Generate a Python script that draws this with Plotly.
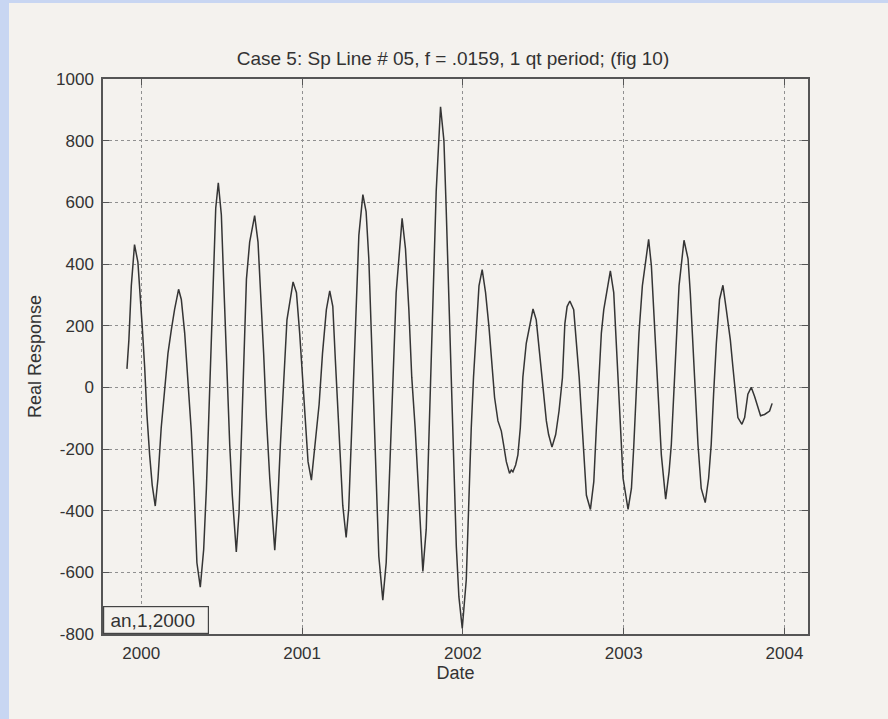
import plotly.graph_objects as go

# Real response of the spline-filtered line, sampled in decimal years
dates = [
    1999.911, 1999.923, 1999.938, 1999.958, 1999.979, 1999.994, 2000.006, 2000.021,
    2000.035, 2000.052, 2000.068, 2000.087, 2000.104, 2000.124, 2000.145, 2000.166,
    2000.187, 2000.207, 2000.232, 2000.249, 2000.270, 2000.290, 2000.311, 2000.328,
    2000.346, 2000.367, 2000.388, 2000.405, 2000.421, 2000.436, 2000.450, 2000.463,
    2000.479, 2000.498, 2000.512, 2000.529, 2000.550, 2000.566, 2000.591, 2000.608,
    2000.622, 2000.639, 2000.654, 2000.674, 2000.705, 2000.726, 2000.743, 2000.761,
    2000.778, 2000.799, 2000.830, 2000.846, 2000.865, 2000.886, 2000.906, 2000.944,
    2000.965, 2000.985, 2001.006, 2001.023, 2001.037, 2001.058, 2001.079, 2001.106,
    2001.127, 2001.151, 2001.172, 2001.191, 2001.207, 2001.222, 2001.237, 2001.253,
    2001.274, 2001.290, 2001.305, 2001.320, 2001.336, 2001.353, 2001.378, 2001.398,
    2001.415, 2001.429, 2001.444, 2001.461, 2001.477, 2001.502, 2001.523, 2001.539,
    2001.554, 2001.568, 2001.585, 2001.622, 2001.643, 2001.664, 2001.682, 2001.703,
    2001.720, 2001.734, 2001.751, 2001.772, 2001.788, 2001.803, 2001.817, 2001.834,
    2001.861, 2001.882, 2001.896, 2001.911, 2001.927, 2001.942, 2001.959, 2001.975,
    2001.996, 2002.021, 2002.037, 2002.052, 2002.066, 2002.083, 2002.100, 2002.120,
    2002.141, 2002.162, 2002.183, 2002.197, 2002.218, 2002.239, 2002.253, 2002.270,
    2002.290, 2002.301, 2002.311, 2002.328, 2002.342, 2002.357, 2002.373, 2002.394,
    2002.436, 2002.456, 2002.477, 2002.498, 2002.519, 2002.533, 2002.554, 2002.577,
    2002.598, 2002.619, 2002.634, 2002.648, 2002.665, 2002.689, 2002.706, 2002.723,
    2002.737, 2002.752, 2002.768, 2002.793, 2002.814, 2002.830, 2002.847, 2002.861,
    2002.876, 2002.892, 2002.917, 2002.938, 2002.950, 2002.965, 2002.979, 2002.996,
    2003.027, 2003.048, 2003.062, 2003.079, 2003.095, 2003.116, 2003.155, 2003.172,
    2003.186, 2003.203, 2003.219, 2003.234, 2003.261, 2003.282, 2003.296, 2003.311,
    2003.327, 2003.344, 2003.375, 2003.400, 2003.414, 2003.431, 2003.447, 2003.462,
    2003.482, 2003.507, 2003.528, 2003.544, 2003.559, 2003.576, 2003.596, 2003.617,
    2003.638, 2003.663, 2003.679, 2003.694, 2003.710, 2003.735, 2003.752, 2003.772,
    2003.793, 2003.814, 2003.834, 2003.851, 2003.876, 2003.907, 2003.923,
]

response = [
    60, 154, 329, 463, 406, 307, 197, 66,
    -87, -219, -317, -385, -295, -131, 0, 110,
    187, 252, 318, 285, 176, 22, -142, -328,
    -569, -648, -526, -328, -76, 197, 439, 581,
    663, 559, 351, 88, -186, -350, -534, -405,
    -186, 88, 351, 471, 557, 471, 307, 110,
    -98, -295, -528, -405, -186, 33, 219, 342,
    307, 176, 0, -131, -241, -301, -186, -55,
    110, 252, 313, 263, 88, -76, -241, -383,
    -487, -394, -186, 33, 285, 493, 625, 570,
    417, 197, -22, -295, -547, -690, -569, -350,
    -131, 88, 307, 548, 449, 252, 33, -131,
    -295, -460, -597, -460, -186, 88, 362, 636,
    910, 800, 581, 307, 33, -241, -515, -679,
    -782, -624, -350, -131, 33, 197, 329, 382,
    307, 197, 55, -33, -109, -142, -186, -241,
    -279, -268, -274, -252, -219, -131, 33, 143,
    254, 219, 110, 0, -109, -153, -194, -153,
    -76, 31, 206, 262, 280, 252, 143, 33,
    -87, -219, -350, -396, -306, -131, 33, 176,
    252, 307, 378, 307, 176, 33, -131, -295,
    -396, -328, -197, -22, 176, 329, 480, 395,
    252, 88, -76, -219, -363, -274, -186, -22,
    164, 329, 477, 417, 307, 143, -22, -186,
    -328, -374, -295, -186, -22, 143, 285, 331,
    252, 154, 66, -22, -98, -120, -98, -22,
    0, -30, -63, -92, -88, -77, -52,
]

x_ticks = [2000, 2001, 2002, 2003, 2004]
y_ticks = [-800, -600, -400, -200, 0, 200, 400, 600, 800, 1000]

PAGE = "#f4f2ee"
EDGE = "#c8d6f2"
INK = "#333333"
FONT = "Liberation Sans, Arial, sans-serif"

W, H = 888, 719
ML, MR, MT, MB = 103, 80, 79, 85
pw, ph = W - ML - MR, H - MT - MB

fig = go.Figure()
fig.add_trace(go.Scatter(
    x=dates, y=response, mode="lines",
    line=dict(color="#353535", width=1.5),
    showlegend=False, hoverinfo="skip",
))

axis_common = dict(
    showline=True, linecolor="#555555", linewidth=1.5, mirror="ticks",
    ticks="inside", ticklen=6, tickcolor="#555555", tickwidth=1,
    showgrid=True, gridcolor="#909090", gridwidth=1, griddash="dot",
    zeroline=False,
    tickfont=dict(family=FONT, size=17, color=INK),
)

fig.update_xaxes(
    range=[1999.762, 2004.146], tickmode="array", tickvals=x_ticks,
    ticktext=[str(t) for t in x_ticks], ticklabelstandoff=3,
    title=dict(text="Date", font=dict(family=FONT, size=18, color=INK), standoff=4),
    **axis_common,
)
fig.update_yaxes(
    range=[-800, 1000], tickmode="array", tickvals=y_ticks,
    ticktext=[str(t) for t in y_ticks], ticklabelstandoff=4,
    title=dict(text="Real Response", font=dict(family=FONT, size=18, color=INK), standoff=10),
    **axis_common,
)

# Page background with the light blue edge along the left and top
fig.add_shape(
    type="rect", xref="paper", yref="paper", layer="below",
    x0=(9 - ML) / pw, x1=(W - ML + 5) / pw,
    y0=-(MB + 5) / ph, y1=(H - MB - 3) / ph,
    fillcolor=PAGE, line=dict(width=0),
)

# Label box in the lower-left corner of the axes
fig.add_annotation(
    xref="paper", yref="paper", x=0, y=0, xanchor="left", yanchor="bottom",
    text=" an,1,2000", showarrow=False, align="left",
    font=dict(family=FONT, size=19, color=INK),
    bgcolor=PAGE, bordercolor="#444444", borderwidth=1.2, borderpad=1,
    width=102, height=24,
)

fig.update_layout(
    width=W, height=H,
    margin=dict(l=ML, r=MR, t=MT, b=MB),
    paper_bgcolor=EDGE, plot_bgcolor=PAGE,
    title=dict(
        text="Case 5: Sp Line # 05, f = .0159, 1 qt period; (fig 10)",
        x=453 / W, xanchor="center", y=1 - 58 / H, yanchor="middle",
        font=dict(family=FONT, size=19, color=INK),
    ),
)

fig.write_html("out.html")
